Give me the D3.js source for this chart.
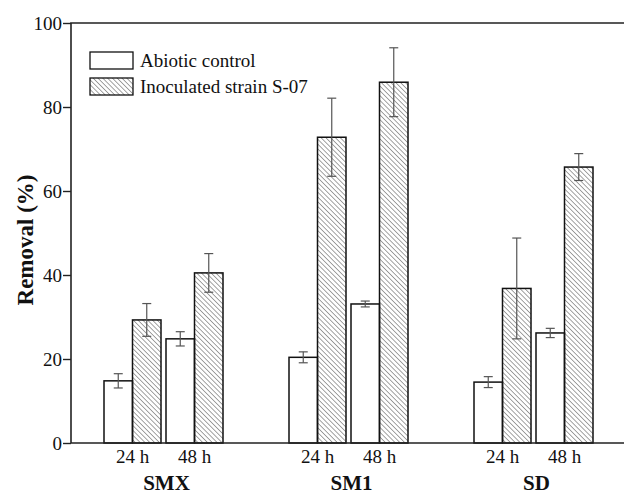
<!DOCTYPE html>
<html>
<head>
<meta charset="utf-8">
<script src="https://cdn.jsdelivr.net/npm/d3@7"></script>
<style>
  body { margin: 0; background: #fff; }
</style>
</head>
<body>
<div id="chart"></div>
<script>
// data
const compounds = ["SMX", "SM1", "SD"];
const times = ["24 h", "48 h"];
const series = ["Abiotic control", "Inoculated strain S-07"];
// removal (%) per compound, per time: [abiotic, inoculated]
const removal = {
  "SMX": [[14.8, 29.3], [24.8, 40.5]],
  "SM1": [[20.4, 72.8], [33.1, 85.9]],
  "SD":  [[14.5, 36.8], [26.2, 65.7]]
};
const errors = {
  "SMX": [[1.7, 3.9], [1.7, 4.6]],
  "SM1": [[1.3, 9.3], [0.7, 8.2]],
  "SD":  [[1.3, 12.0], [1.1, 3.2]]
};
const yTicks = [0, 20, 40, 60, 80, 100];

const W = 625, H = 494;
const mLeft = 71, mRight = 624, mTop = 23, mBottom = 443;
const FONT = "'Liberation Serif', 'Times New Roman', Tinos, 'DejaVu Serif', serif";

const svg = d3.select("#chart").append("svg")
    .attr("width", W)
    .attr("height", H)
    .style("font-family", FONT);

// hatch pattern
const defs = svg.append("defs");
defs.append("pattern")
    .attr("id", "hatch")
    .attr("patternUnits", "userSpaceOnUse")
    .attr("width", 3.4)
    .attr("height", 3.4)
    .attr("patternTransform", "rotate(-45)")
    .append("line")
    .attr("x1", 0).attr("y1", 0)
    .attr("x2", 0).attr("y2", 3.4)
    .attr("stroke", "#333")
    .attr("stroke-width", 0.9);

let x0 = d3.scaleBand()
    .domain(compounds)
    .range([mLeft, 626]);

let x1 = d3.scaleBand()
    .domain(times)
    .range([x0.bandwidth() / 2 - 59.5, x0.bandwidth() / 2 + 59.5])
    .paddingInner(5 / 62);

let x2 = d3.scaleBand()
    .domain(series)
    .range([0, x1.bandwidth()]);

let y = d3.scaleLinear()
    .domain([0, 100])
    .range([mBottom, mTop]);

// rows for bars
let rows = [];
compounds.forEach(c => {
    times.forEach((t, ti) => {
        series.forEach((s, si) => {
            rows.push({c: c, t: t, s: s, si: si, v: removal[c][ti][si], e: errors[c][ti][si]});
        });
    });
});

const bx = d => x0(d.c) + x1(d.t) + x2(d.s);

svg.append("g").selectAll("rect")
    .data(rows)
    .enter()
    .append("rect")
    .attr("x", bx)
    .attr("y", d => y(d.v))
    .attr("width", x2.bandwidth())
    .attr("height", d => y(0) - y(d.v))
    .attr("fill", d => d.si === 0 ? "#fff" : "url(#hatch)")
    .attr("stroke", "#111")
    .attr("stroke-width", 1.5);

// error bars
let eb = svg.append("g")
    .attr("stroke", "#555")
    .attr("stroke-width", 1.2);

rows.forEach(d => {
    let cx = bx(d) + x2.bandwidth() / 2;
    eb.append("line")
        .attr("x1", cx).attr("x2", cx)
        .attr("y1", y(d.v + d.e)).attr("y2", y(d.v - d.e));
    [d.v + d.e, d.v - d.e].forEach(v => {
        eb.append("line")
            .attr("x1", cx - 4.5).attr("x2", cx + 4.5)
            .attr("y1", y(v)).attr("y2", y(v));
    });
});

// frame
svg.append("path")
    .attr("d", `M${mRight},${mTop}H${mLeft}V${mBottom}H${mRight}`)
    .attr("fill", "none")
    .attr("stroke", "#222")
    .attr("stroke-width", 1.6);

// y axis
let yAxis = svg.append("g")
    .attr("transform", `translate(${mLeft},0)`)
    .call(d3.axisLeft(y).tickValues(yTicks).tickSize(8).tickPadding(1));
yAxis.attr("font-family", null).attr("font-size", null);
yAxis.select(".domain").remove();
yAxis.selectAll("line").attr("stroke", "#222").attr("stroke-width", 1.4);
yAxis.selectAll("text")
    .style("font-family", FONT)
    .style("font-size", "19px")
    .attr("fill", "#111");

// time labels
rows.filter(d => d.si === 0).forEach(d => {
    svg.append("text")
        .attr("x", x0(d.c) + x1(d.t) + x1.bandwidth() / 2)
        .attr("y", 463)
        .attr("text-anchor", "middle")
        .attr("fill", "#111")
        .style("font-size", "19px")
        .text(d.t);
});

// compound labels
compounds.forEach(c => {
    svg.append("text")
        .attr("x", x0(c) + x0.bandwidth() / 2 + 3)
        .attr("y", 490)
        .attr("text-anchor", "middle")
        .attr("fill", "#111")
        .style("font-size", "21px")
        .style("font-weight", "bold")
        .text(c);
});

// y title
svg.append("text")
    .attr("transform", "translate(33, 240) rotate(-90)")
    .attr("text-anchor", "middle")
    .attr("fill", "#111")
    .style("font-size", "23px")
    .style("font-weight", "bold")
    .text("Removal (%)");

// legend
let legend = svg.append("g");
series.forEach((s, i) => {
    legend.append("rect")
        .attr("x", 90)
        .attr("y", 52 + i * 26)
        .attr("width", 43)
        .attr("height", 17)
        .attr("fill", i === 0 ? "#fff" : "url(#hatch)")
        .attr("stroke", "#111")
        .attr("stroke-width", 1.3);
    legend.append("text")
        .attr("x", 140)
        .attr("y", 67 + i * 26)
        .attr("fill", "#111")
        .style("font-size", "19px")
        .text(s);
});
</script>
</body>
</html>
